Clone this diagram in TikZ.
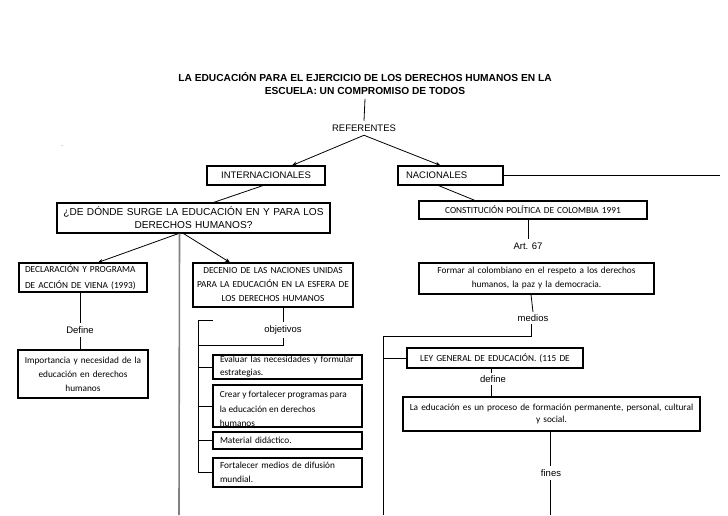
\documentclass[tikz,border=0pt]{standalone}
\usepackage{fontspec}
\setmainfont{Liberation Sans}
\newfontfamily\calib{Carlito}
\usetikzlibrary{arrows.meta}

\begin{document}
\begin{tikzpicture}[x=1pt,y=-1pt,line width=0.8pt,
    font=\fontsize{9.5}{13}\selectfont,
    box/.style={draw,line width=1.1pt,inner sep=0pt,align=center},
    cbox/.style={box,font=\calib\fontsize{9.3}{14}\selectfont},
    lbl/.style={inner sep=3.5pt},
    flecha/.style={-{Stealth[length=5pt,width=4pt]}}]

    % page frame
    \useasboundingbox (0,0) rectangle (728,515);

    \node[font=\bfseries\fontsize{10.2}{13}\selectfont,align=center] (titulo) at (365,84)
        {LA EDUCACIÓN PARA EL EJERCICIO DE LOS DERECHOS HUMANOS EN LA\\ESCUELA: UN COMPROMISO DE TODOS};
    \node[lbl] (ref) at (364,128) {REFERENTES};
    \node[font=\tiny] (marca) at (62,148) {¨};

    % first level
    \node[box,text width=118pt,minimum height=19pt] (intl) at (266,175.5) {INTERNACIONALES};
    \node[box,text width=89pt,inner xsep=8pt,minimum height=19pt,align=left] (nac) at (450.5,175.5) {NACIONALES};
    \coordinate (nacfin) at (720,175.5);

    % internacionales
    \node[box,text width=273pt,minimum height=30pt,font=\fontsize{10.1}{13}\selectfont] (surge) at (193.5,218)
        {¿DE DÓNDE SURGE LA EDUCACIÓN EN Y PARA LOS\\DERECHOS HUMANOS?};
    \node[cbox,text width=116pt,inner xsep=6pt,minimum height=29pt,align=left,
        font=\calib\fontsize{9.3}{16}\selectfont] (decl) at (83,277.5)
        {DECLARACIÓN Y PROGRAMA\\DE ACCIÓN DE VIENA (1993)};
    \node[cbox,text width=160pt,minimum height=44pt] (decenio) at (273,285)
        {DECENIO DE LAS NACIONES UNIDAS\\PARA LA EDUCACIÓN EN LA ESFERA DE\\LOS DERECHOS HUMANOS};
    \node[lbl] (define1) at (80,330) {Define};
    \node[cbox,text width=130pt,minimum height=48pt] (import) at (83,374)
        {Importancia y necesidad de la\\educación en derechos\\humanos};
    \node[lbl] (objet) at (283,330) {objetivos};
    \coordinate (objfin) at (283,345);
    \coordinate (brtop) at (198,320);
    \coordinate (brbot) at (198,472);

    % objetivos
    \node[cbox,text width=135pt,inner xsep=7pt,minimum height=24pt,align=left,
        font=\calib\fontsize{9.3}{13}\selectfont] (eval) at (287.5,367)
        {Evaluar las necesidades y formular\\estrategias.};
    \node[box,minimum width=149pt,minimum height=42pt] (crear) at (287.5,406) {};
    \begin{scope}
        \clip (crear.north west) rectangle (crear.south east);
        \node[anchor=north west,inner sep=0pt,align=left,
            font=\calib\fontsize{9.3}{14.5}\selectfont] (creartxt) at ([xshift=7pt,yshift=-6.5pt]crear.north west)
            {Crear y fortalecer programas para\\la educación en derechos\\humanos};
    \end{scope}
    \node[cbox,text width=135pt,inner xsep=7pt,minimum height=17pt,align=left] (material) at (287.5,440.5)
        {Material didáctico.};
    \node[cbox,text width=135pt,inner xsep=7pt,minimum height=29pt,align=left] (fort) at (287.5,472.5)
        {Fortalecer medios de difusión\\mundial.};

    % nacionales
    \node[cbox,text width=228pt,minimum height=18pt] (const) at (533,210)
        {CONSTITUCIÓN POLÍTICA DE COLOMBIA 1991};
    \node[lbl] (art) at (528,246) {Art. 67};
    \node[cbox,text width=235pt,minimum height=31pt] (formar) at (536.5,278.5)
        {Formar al colombiano en el respeto a los derechos\\humanos, la paz y la democracia.};
    \node[lbl,inner ysep=2pt] (medios) at (533,318) {medios};
    \coordinate (medfin) at (531,336);
    \coordinate (izqtop) at (383,336);
    \coordinate (izqbot) at (383,515);
    \node[cbox,text width=176pt,minimum height=20pt] (ley) at (495,358)
        {LEY GENERAL DE EDUCACIÓN. (115 DE};
    \node[lbl,inner ysep=2pt] (define2) at (493,379) {define};
    \node[cbox,text width=297pt,minimum height=34pt,font=\calib\fontsize{9.3}{12.5}\selectfont] (laedu) at (551.5,414)
        {La educación es un proceso de formación permanente, personal, cultural\\y social.};
    \node[lbl] (fines) at (551,473) {fines};
    \coordinate (finfin) at (550,515);

    % connectors
    \draw (titulo.south) -- (ref.north);
    \draw[flecha] (ref.south) -- ([xshift=26pt]intl.north);
    \draw[flecha] (ref.south) -- ([xshift=-10pt]nac.north);
    \draw (nac.east) -- (nacfin);
    \draw ([xshift=-3pt]intl.south) -- ([xshift=20pt]surge.north);
    \draw ([xshift=-12pt]nac.south) -- ([xshift=-58pt]const.north);
    \draw[flecha] ([xshift=-15pt]surge.south) -- ([xshift=15pt]decl.north);
    \draw[flecha] ([xshift=-10pt]surge.south) -- ([xshift=-43pt]decenio.north);
    \draw[gray,line width=1.6pt] ([xshift=-14pt]surge.south) -- (179,515);
    \draw ([xshift=-3pt]decl.south) -- (define1.north);
    \draw (define1.south) -- ([xshift=-3pt]import.north);
    \draw ([xshift=10pt]decenio.south) -- (objet.north);
    \draw (objet.south) -- (objfin) -- (objfin -| brtop);
    \draw ([xshift=15pt]brtop) -- (brtop) -- (brbot);
    \foreach \caja in {eval,crear,material,fort}
        \draw (\caja.west -| brtop) -- (\caja.west);
    \draw ([xshift=-5pt]const.south) -- (art.north);
    \draw ([xshift=-5.5pt]formar.south) -- (medios.north);
    \draw (medios.south -| medfin) -- (medfin) -- (izqtop) -- (izqbot);
    \draw (ley.west -| izqtop) -- (ley.west);
    \draw ([xshift=-4pt]ley.south) -- ([xshift=-2pt]define2.north);
    \draw ([xshift=-2pt]define2.south) -- (laedu.north -| 491,0);
    \draw ([xshift=-1.5pt]laedu.south) -- (fines.north -| finfin);
    \draw (fines.south -| finfin) -- (finfin);

\end{tikzpicture}
\end{document}
